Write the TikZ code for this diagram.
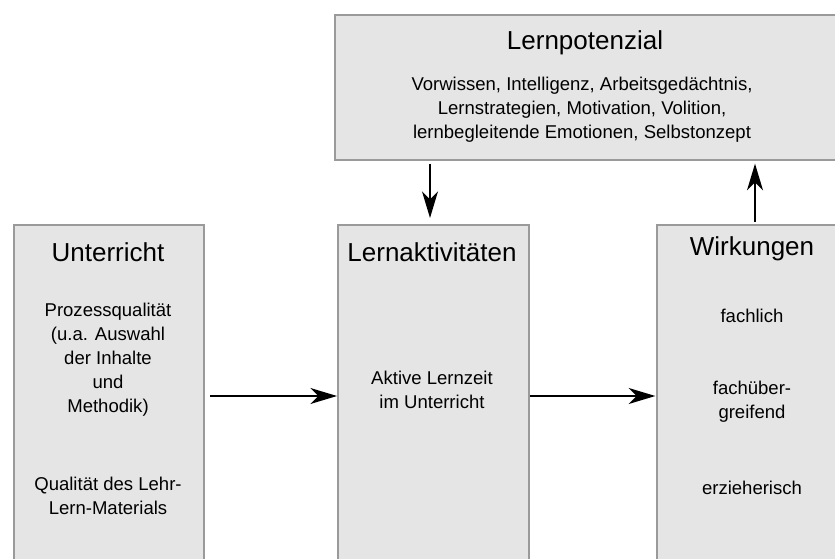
\documentclass[tikz,border=0pt]{standalone}
\usepackage{fontspec}
\setmainfont{Liberation Sans}
\usetikzlibrary{positioning, arrows.meta, calc}

\definecolor{boxfill}{HTML}{E5E5E5}
\definecolor{boxline}{HTML}{9A9A9A}

\begin{document}
\begin{tikzpicture}[
    x=0.75pt, y=-0.75pt,        % Pixelkoordinaten
    >={Stealth[length=20pt, width=12pt, inset=6pt]},
    box/.style={draw=boxline, fill=boxfill, line width=1.5pt, anchor=north west, inner sep=0pt},
    title/.style={font=\fontsize{19.5}{23}\selectfont, inner sep=0pt},
    body/.style={font=\fontsize{13.9}{18}\selectfont, align=center, inner sep=0pt},
    arrow/.style={->, line width=1.3pt}
]
    \useasboundingbox (0,0) rectangle (835,559);
    \clip (0,0) rectangle (835,559);

    % --- 1. Kästen ---
    \node [box, minimum width=142.5pt, minimum height=330pt] (unt) at (13,224) {};
    \node [box, minimum width=143.25pt, minimum height=330pt] (akt) at (337,224) {};
    \node [box, minimum width=160pt, minimum height=330pt] (wir) at (656,224) {};
    \node [box, minimum width=400pt, minimum height=108.75pt] (pot) at (334,14) {};

    % --- 2. Lernpotenzial ---
    \node [title] (potT) at (585,43) {Lernpotenzial};
    \node [body] (potB) at (582,110) {Vorwissen, Intelligenz, Arbeitsgedächtnis,\\
        Lernstrategien, Motivation, Volition,\\
        lernbegleitende Emotionen, Selbstonzept};

    % --- 3. Unterricht ---
    \node [title] (untT) at (108,252) {Unterricht};
    \node [body] (untA) at (108,360) {Prozessqualität\\(u.a. Auswahl\\der Inhalte\\und\\Methodik)};
    \node [body] (untB) at (108,496) {Qualität des Lehr-\\Lern-Materials};

    % --- 4. Lernaktivitäten ---
    \node [title] (aktT) at (432,252) {Lernaktivitäten};
    \node [body] (aktB) at (432,390) {Aktive Lernzeit\\im Unterricht};

    % --- 5. Wirkungen ---
    \node [title] (wirT) at (752,249) {Wirkungen};
    \node [body] (wirA) at (752,316) {fachlich};
    \node [body] (wirB) at (752,402) {fachüber-\\greifend};
    \node [body] (wirC) at (752,488) {erzieherisch};

    % --- 6. Pfeile ---
    \coordinate (mid) at (0,396);
    \draw [arrow, shorten <=4pt] (unt.east |- mid) -- (akt.west |- mid);
    \draw [arrow, shorten >=0.5pt] (akt.east |- mid) -- (wir.west |- mid);
    \draw [arrow, shorten <=2pt, shorten >=4.5pt] (pot.south -| 430,0) -- (akt.north -| 430,0);
    \draw [arrow, shorten <=1.5pt, shorten >=2pt] (wir.north -| 755,0) -- (pot.south -| 755,0);

\end{tikzpicture}
\end{document}
